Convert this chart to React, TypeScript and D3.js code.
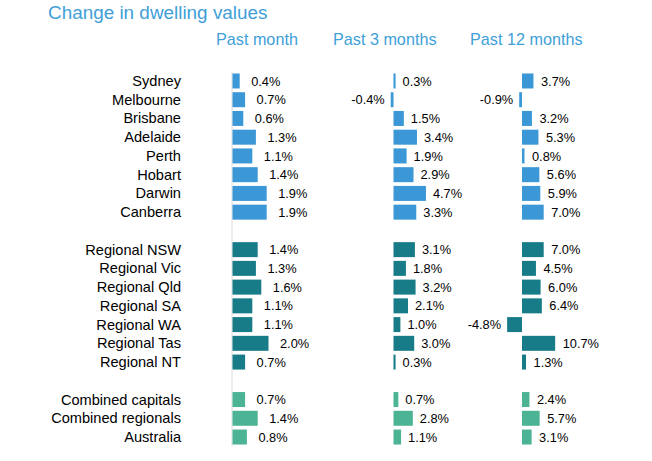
import React from "react";
import * as d3 from "d3";

const regions = [
  "Sydney", "Melbourne", "Brisbane", "Adelaide", "Perth", "Hobart", "Darwin", "Canberra",
  "Regional NSW", "Regional Vic", "Regional Qld", "Regional SA", "Regional WA", "Regional Tas", "Regional NT",
  "Combined capitals", "Combined regionals", "Australia",
];
const groups = [
  "capital", "capital", "capital", "capital", "capital", "capital", "capital", "capital",
  "regional", "regional", "regional", "regional", "regional", "regional", "regional",
  "combined", "combined", "combined",
];
const pastMonth = [0.4, 0.7, 0.6, 1.3, 1.1, 1.4, 1.9, 1.9, 1.4, 1.3, 1.6, 1.1, 1.1, 2.0, 0.7, 0.7, 1.4, 0.8];
const past3Months = [0.3, -0.4, 1.5, 3.4, 1.9, 2.9, 4.7, 3.3, 3.1, 1.8, 3.2, 2.1, 1.0, 3.0, 0.3, 0.7, 2.8, 1.1];
const past12Months = [3.7, -0.9, 3.2, 5.3, 0.8, 5.6, 5.9, 7.0, 7.0, 4.5, 6.0, 6.4, -4.8, 10.7, 1.3, 2.4, 5.7, 3.1];
const columnTitles = ["Past month", "Past 3 months", "Past 12 months"];
const title = "Change in dwelling values";

const groupColor: Record<string, string> = {
  capital: "#3b97d6",
  regional: "#177c87",
  combined: "#4cb494",
};

// slots: regions with blank spacer rows between groups
const slots: string[] = [];
regions.forEach((r, i) => {
  if (i > 0 && groups[i] !== groups[i - 1]) slots.push("__gap" + i);
  slots.push(r);
});

const W = 652;
const H = 461;

const y = d3.scaleBand<string>().domain(slots).range([71.6, 446.4]).paddingInner(0.2).paddingOuter(0.1);

const columns = [
  { values: pastMonth, x: d3.scaleLinear().domain([0, 2]).range([232.5, 268.5]), gap: 11.5, titleX: 216, axis: true },
  { values: past3Months, x: d3.scaleLinear().domain([0, 5]).range([393.5, 428]), gap: 7, titleX: 333, axis: false },
  { values: past12Months, x: d3.scaleLinear().domain([0, 10]).range([522, 553]), gap: 7.5, titleX: 470, axis: false },
];

const font = "'Liberation Sans', Arial, sans-serif";
const fmt = (v: number) => v.toFixed(1) + "%";

export default function App() {
  return (
    <svg width={W} height={H} style={{ position: "absolute", left: 0, top: 0, background: "#fff" }} fontFamily={font}>
      <rect x={0} y={0} width={W} height={H} fill="#fff" />
      <text x={48} y={18.5} fontSize={18.9} fill="#41a0d8">{title}</text>
      {columns.map((c, ci) => (
        <text key={"h" + ci} x={c.titleX} y={45} fontSize={16.2} fill="#41a0d8">{columnTitles[ci]}</text>
      ))}
      {regions.map((r, i) => (
        <text key={"l" + i} x={181} y={(y(r) as number) + y.bandwidth() / 2 + 5} fontSize={14.6} textAnchor="end" fill="#000">{r}</text>
      ))}
      {columns.map((c, ci) => (
        <g key={"c" + ci}>
          {c.axis && (
            <line x1={c.x(0) - 0.5} x2={c.x(0) - 0.5} y1={y.range()[0]} y2={y.range()[1]} stroke="#d9d9d9" strokeWidth={1} />
          )}
          {c.values.map((v, i) => {
            const r = regions[i];
            const y0 = y(r) as number;
            const x0 = c.x(Math.min(0, v));
            const x1 = c.x(Math.max(0, v));
            const w = Math.max(1.5, x1 - x0);
            const cy = y0 + y.bandwidth() / 2;
            return (
              <g key={i}>
                <rect x={v < 0 ? x1 - w : x0} y={y0} width={w} height={y.bandwidth()} fill={groupColor[groups[i]]} />
                <text
                  x={v < 0 ? x0 - 6 : x1 + c.gap}
                  y={cy + 4.6}
                  fontSize={12.8}
                  textAnchor={v < 0 ? "end" : "start"}
                  fill="#000"
                >
                  {fmt(v)}
                </text>
              </g>
            );
          })}
        </g>
      ))}
    </svg>
  );
}
